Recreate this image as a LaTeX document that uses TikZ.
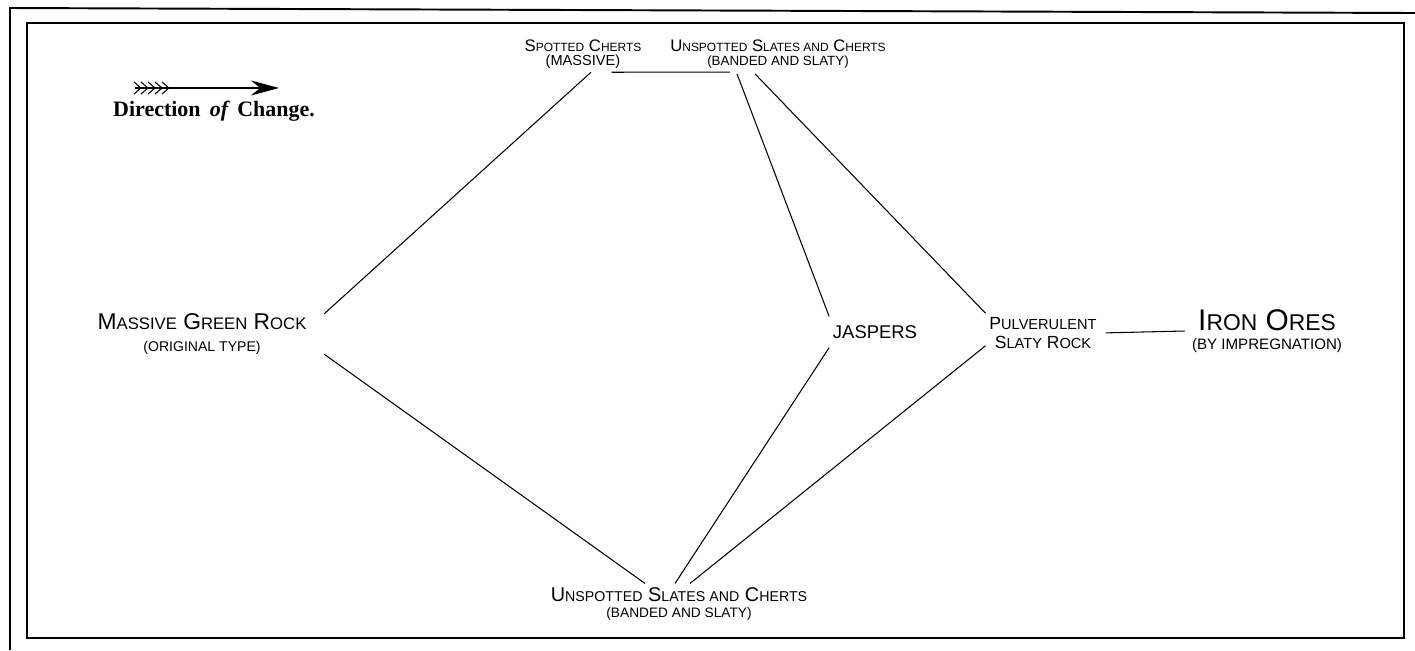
\documentclass[tikz,border=0pt]{standalone}
\usepackage{fontspec}
\setmainfont{Liberation Sans}
\newfontfamily\legendfont{Liberation Serif}
\usetikzlibrary{arrows.meta}

% small capitals drawn by hand: \lc{size}{LETTERS}
\newcommand\lc[2]{{\fontsize{#1}{#1}\selectfont #2}}

\begin{document}
\begin{tikzpicture}[x=0.02cm, y=-0.02cm,
    lbl/.style={align=center, inner sep=0pt},
    link/.style={draw, line width=0.6pt}]
  \useasboundingbox (0,0) rectangle (1415,650);
  % plate border
  \draw[line width=1.1pt] (10,650) -- (10,8) -- (1415,13);
  \draw[line width=1pt] (27,23) rectangle (1404,638);

  % key
  \coordinate (tail) at (135,88); \coordinate (tip) at (279,88);
  \draw[line width=0.7pt, -{Stealth[length=0.56cm, width=0.3cm]}] (tail) -- (tip);
  \foreach \x in {141,148,...,169}
    \draw[line width=0.6pt] (\x,88) -- ++(-7,-6) (\x,88) -- ++(-7,6);
  \node[lbl, font=\legendfont\bfseries\fontsize{12.5}{14}\selectfont] (key) at (214,111)
    {Direction \,{\itshape of}\, Change.};

  % rocks
  \node[lbl, inner xsep=10pt, font=\fontsize{13}{15}\selectfont] (mgr) at (202,334)
    {M\lc{9.5}{ASSIVE} G\lc{9.5}{REEN} R\lc{9.5}{OCK}\\[-3pt]\lc{8}{(ORIGINAL TYPE)}};
  \node[lbl, font=\fontsize{9.5}{11}\selectfont] (spc) at (583,54)
    {S\lc{6.8}{POTTED} C\lc{6.8}{HERTS}\\[-3pt]\lc{8.3}{(MASSIVE)}};
  \node[lbl, font=\fontsize{9.5}{11}\selectfont] (ust) at (778,54)
    {U\lc{6.8}{NSPOTTED} S\lc{6.8}{LATES AND} C\lc{6.8}{HERTS}\\[-3pt]\lc{7.6}{(BANDED AND SLATY)}};
  \node[lbl, font=\fontsize{11.3}{12.5}\selectfont] (usb) at (679,604)
    {U\lc{8.1}{NSPOTTED} S\lc{8.1}{LATES AND} C\lc{8.1}{HERTS}\\[-3pt]\lc{7.8}{(BANDED AND SLATY)}};
  \node[lbl, inner xsep=2pt, inner ysep=5pt, font=\fontsize{10.5}{12}\selectfont] (jas) at (875,332)
    {JASPERS};
  \node[lbl, inner sep=2pt, font=\fontsize{10}{12}\selectfont] (pul) at (1043,333)
    {P\lc{8.3}{ULVERULENT}\\[-1pt]S\lc{8.3}{LATY} R\lc{8.3}{OCK}};
  \node[lbl, inner xsep=4pt, font=\fontsize{17}{17}\selectfont] (iro) at (1267,331)
    {I\lc{13}{RON} O\lc{13}{RES}\\[-6pt]\lc{8.6}{(BY IMPREGNATION)}};

  % lines of change
  \draw[link] (mgr.north east) -- ([xshift=0.16cm,yshift=-2pt]spc.south);
  \draw[link] (mgr.south east) -- ([xshift=-0.68cm,yshift=2pt]usb.north);
  \draw[link] ([xshift=-0.6cm,yshift=-2pt]spc.south east) -- ([xshift=1.2cm,yshift=-2pt]ust.south west);
  \draw[link] ([xshift=-0.82cm,yshift=-3pt]ust.south) -- (jas.north west);
  \draw[link] ([xshift=-0.46cm,yshift=-3pt]ust.south) -- (pul.north west);
  \draw[link] (jas.south west) -- ([xshift=-0.08cm,yshift=2pt]usb.north);
  \draw[link] ([yshift=0.14cm]pul.south west) -- ([xshift=0.22cm,yshift=2pt]usb.north);
  \draw[link, shorten <=3pt] (pul.east) -- (iro.west);
\end{tikzpicture}
\end{document}
